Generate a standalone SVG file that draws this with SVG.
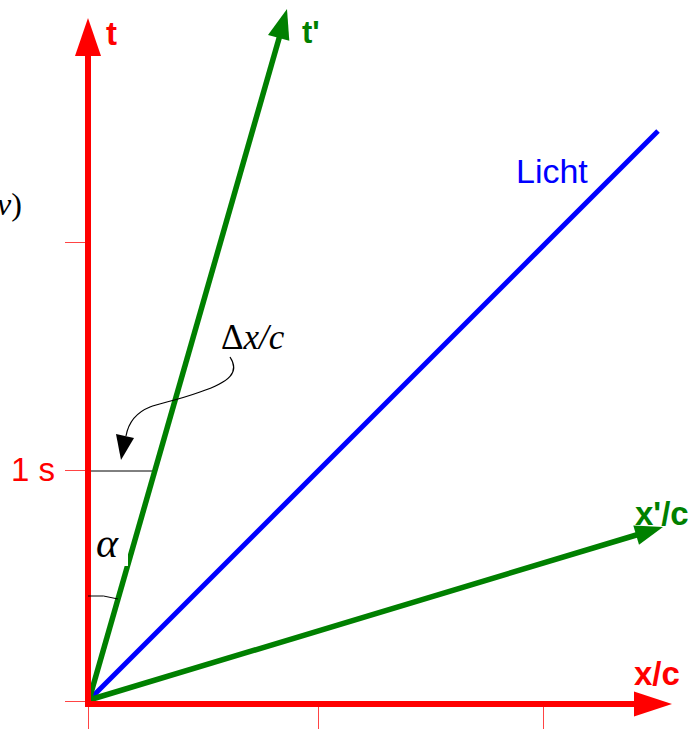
<svg xmlns="http://www.w3.org/2000/svg" width="700" height="729" viewBox="0 0 700 729">
<style>
.tick{stroke:#f44;stroke-width:1;fill:none}
.ax{stroke:#ff0000;stroke-width:6;fill:none}
.gr{stroke:#008000;stroke-width:5.5;fill:none}
.bl{stroke:#0000ff;stroke-width:5;fill:none}
.lbl{font-family:"Liberation Sans",Arial,sans-serif}
.math{font-family:"Liberation Serif","Times New Roman",serif;fill:#000}
</style>
<rect width="700" height="729" fill="#fff"/>
<g id="ticks">
<line class="tick" x1="65" y1="242.5" x2="88" y2="242.5"/>
<line class="tick" x1="65" y1="470.5" x2="88" y2="470.5"/>
<line class="tick" x1="65" y1="701.5" x2="88" y2="701.5"/>
<line class="tick" x1="88.5" y1="704" x2="88.5" y2="729"/>
<line class="tick" x1="318.5" y1="704" x2="318.5" y2="729"/>
<line class="tick" x1="543.5" y1="704" x2="543.5" y2="729"/>
</g>
<g id="connectors">
<line x1="89" y1="471" x2="153" y2="471" stroke="#000" stroke-width="1"/>
<line class="bl" x1="89" y1="700" x2="658" y2="131"/>
<line class="gr" x1="89" y1="700" x2="280" y2="35"/>
<polygon points="287,9 268,35 289.3,40.8" fill="#008000"/>
<line class="gr" x1="89" y1="700" x2="638" y2="534.5"/>
<polygon points="663,527 633.3,525.5 639,544.7" fill="#008000"/>
<rect x="95" y="528" width="33" height="38" fill="#fff"/>
<line class="ax" x1="88" y1="706" x2="88" y2="54"/>
<polygon points="88,18 75,56 101,56" fill="#ff0000"/>
<line class="ax" x1="85" y1="704" x2="636" y2="704"/>
<polygon points="672,704 634,691.5 634,716.5" fill="#ff0000"/>
<path d="M88,596 Q104,594.5 118,599" stroke="#000" stroke-width="1" fill="none"/>
<path d="M230,357 C240,372 230,382 200,392 C175,401 160,403 150,407 C135,413 128,425 126,436" stroke="#000" stroke-width="1.2" fill="none"/>
<polygon points="116,434 134,438 121,460" fill="#000"/>
</g>
<g id="label-t"><text class="lbl" x="106" y="45" font-size="33" font-weight="bold" fill="#ff0000">t</text></g>
<g id="label-tprime"><text class="lbl" x="302" y="43" font-size="31" font-weight="bold" fill="#008000">t'</text></g>
<g id="label-licht"><text class="lbl" x="516" y="183" font-size="34" fill="#0000ff">Licht</text></g>
<g id="label-1s"><text class="lbl" x="11" y="481" font-size="33" fill="#ff0000">1 s</text></g>
<g id="label-xprime"><text class="lbl" x="635" y="525" font-size="33" font-weight="bold" fill="#008000">x'/c</text></g>
<g id="label-x"><text class="lbl" x="634" y="685" font-size="33" font-weight="bold" fill="#ff0000">x/c</text></g>
<g id="label-dx"><text class="math" x="221" y="349" font-size="35">Δ<tspan font-style="italic">x/c</tspan></text></g>
<g id="label-alpha"><text class="math" x="96" y="557" font-size="42" font-style="italic" fill="#333">α</text></g>
<g id="label-v"><text class="math" x="-3" y="215" font-size="32" font-style="italic">v<tspan font-style="normal">)</tspan></text></g>
</svg>
